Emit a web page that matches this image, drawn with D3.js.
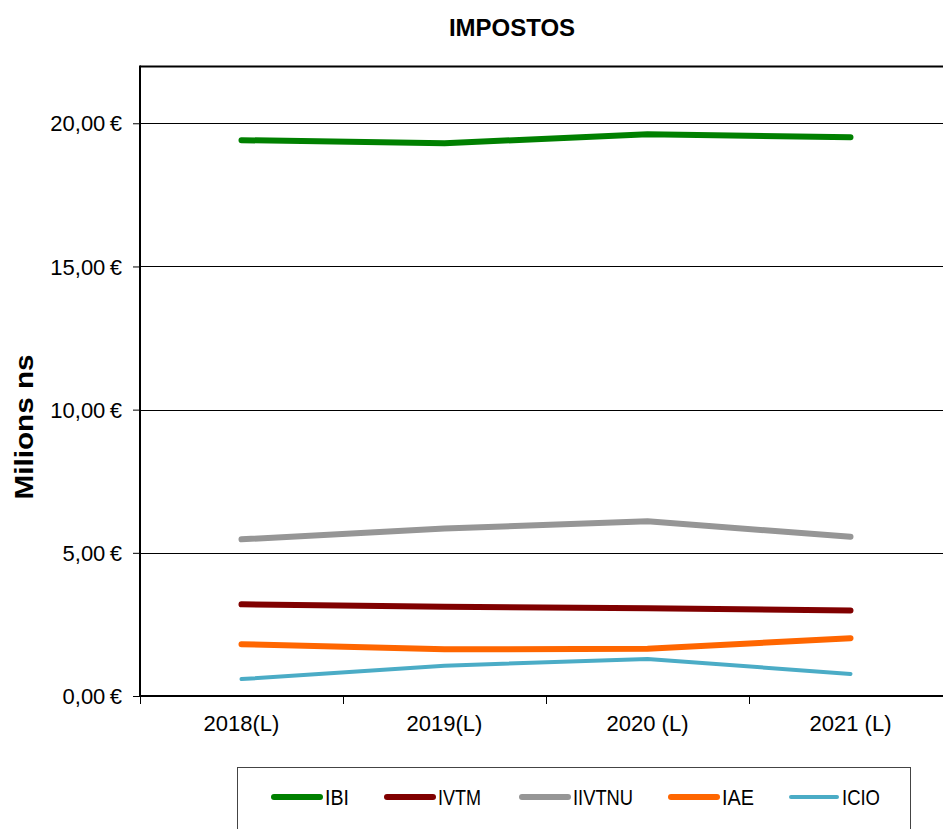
<!DOCTYPE html>
<html>
<head>
<meta charset="utf-8">
<script src="https://cdn.jsdelivr.net/npm/d3@7"></script>
<style>
  body { margin: 0; background: #fff; }
  svg { display: block; font-family: "Liberation Sans", Arial, sans-serif; }
</style>
</head>
<body>
<svg width="943" height="829"></svg>
<script>
const years = ["2018(L)", "2019(L)", "2020 (L)", "2021 (L)"];
const seriesNames = ["IBI", "IVTM", "IIVTNU", "IAE", "ICIO"];
const seriesColors = ["#008000", "#800000", "#969696", "#ff6600", "#4bacc6"];
const seriesWidths = [6, 6, 6, 6, 4];
const ibi = [19.41, 19.30, 19.62, 19.51];
const ivtm = [3.20, 3.12, 3.06, 2.99];
const iivtnu = [5.47, 5.85, 6.10, 5.56];
const iae = [1.81, 1.63, 1.65, 2.02];
const icio = [0.59, 1.06, 1.29, 0.77];
const yTicks = [0, 5, 10, 15, 20];

const allSeries = [ibi, ivtm, iivtnu, iae, icio];

const svg = d3.select("svg");
const plotLeft = 140, plotTop = 66, plotBottom = 696, plotRight = 952;

const x = d3.scaleBand().domain(years).range([plotLeft, plotRight]);
const y = d3.scaleLinear().domain([0, 22]).range([plotBottom, plotTop]);

// title
svg.append("text")
  .attr("x", 512).attr("y", 36)
  .attr("text-anchor", "middle")
  .attr("font-weight", "bold").attr("font-size", 24)
  .text("IMPOSTOS");

// grid lines
svg.append("g")
  .selectAll("line")
  .data(yTicks.filter(d => d > 0))
  .enter().append("line")
  .attr("x1", plotLeft).attr("x2", 943)
  .attr("y1", d => Math.round(y(d)) + 0.5).attr("y2", d => Math.round(y(d)) + 0.5)
  .attr("stroke", "#000").attr("stroke-width", 1);

// top frame line
svg.append("line")
  .attr("x1", plotLeft).attr("x2", 943)
  .attr("y1", plotTop + 0.5).attr("y2", plotTop + 0.5)
  .attr("stroke", "#000").attr("stroke-width", 2);

// y axis
const yAxis = d3.axisLeft(y)
  .tickValues(yTicks)
  .tickSize(7)
  .tickFormat(d => d3.format(".2f")(d).replace(".", ",") + "\u2009€");
const gy = svg.append("g").attr("transform", `translate(${plotLeft},0)`).call(yAxis);
gy.select(".domain").remove();
gy.selectAll(".tick line").attr("stroke", "#000");
gy.selectAll(".tick text").attr("font-size", 22).attr("fill", "#000")
  .attr("font-family", "Liberation Sans, Arial, sans-serif").attr("x", -18).attr("dy", "0.35em");
svg.append("line")
  .attr("x1", plotLeft).attr("x2", plotLeft)
  .attr("y1", plotTop - 0.5).attr("y2", plotBottom + 1)
  .attr("stroke", "#000").attr("stroke-width", 2);

// x axis
const xAxis = d3.axisBottom(x).tickSize(0).tickFormat(d => d);
const gx = svg.append("g").attr("transform", `translate(0,${plotBottom})`).call(xAxis);
gx.select(".domain").remove();
gx.selectAll(".tick text").attr("font-size", 22).attr("fill", "#000")
  .attr("font-family", "Liberation Sans, Arial, sans-serif")
  .attr("y", 35).attr("dy", null);
svg.append("line")
  .attr("x1", plotLeft - 1).attr("x2", 943)
  .attr("y1", plotBottom).attr("y2", plotBottom)
  .attr("stroke", "#000").attr("stroke-width", 2);
svg.append("g")
  .selectAll("line")
  .data(years)
  .enter().append("line")
  .attr("x1", d => Math.round(x(d)) + 0.5).attr("x2", d => Math.round(x(d)) + 0.5)
  .attr("y1", plotBottom).attr("y2", plotBottom + 8)
  .attr("stroke", "#000");

// y axis title
svg.append("text")
  .attr("transform", "translate(33,427) rotate(-90)")
  .attr("text-anchor", "middle")
  .attr("font-weight", "bold").attr("font-size", 26)
  .attr("textLength", 145).attr("lengthAdjust", "spacingAndGlyphs")
  .text("Milions ns");

// lines
const line = d3.line()
  .x((d, i) => x(years[i]) + x.bandwidth() / 2)
  .y(d => y(d));

svg.append("g")
  .selectAll("path")
  .data(allSeries)
  .enter().append("path")
  .attr("d", line)
  .attr("fill", "none")
  .attr("stroke", (d, i) => seriesColors[i])
  .attr("stroke-width", (d, i) => seriesWidths[i])
  .attr("stroke-linecap", "round")
  .attr("stroke-linejoin", "round");

// legend
svg.append("rect")
  .attr("x", 237.5).attr("y", 767.5)
  .attr("width", 673).attr("height", 80)
  .attr("fill", "none").attr("stroke", "#444");

// legend is drawn in a condensed face; squeeze text to the narrow widths
const legendX = [271, 384, 519, 668, 788];
const legendTextWidth = [24, 43, 60, 32, 38];
const legend = svg.append("g")
  .selectAll("g")
  .data(seriesNames)
  .enter().append("g")
  .attr("transform", (d, i) => `translate(${legendX[i]},797)`);
legend.append("line")
  .attr("x1", 3).attr("x2", 49)
  .attr("stroke", (d, i) => seriesColors[i])
  .attr("stroke-width", (d, i) => seriesWidths[i])
  .attr("stroke-linecap", "round");
legend.append("text")
  .attr("x", 54).attr("dy", "0.36em")
  .attr("font-size", 22)
  .attr("textLength", (d, i) => legendTextWidth[i])
  .attr("lengthAdjust", "spacingAndGlyphs")
  .text(d => d);
</script>
</body>
</html>
